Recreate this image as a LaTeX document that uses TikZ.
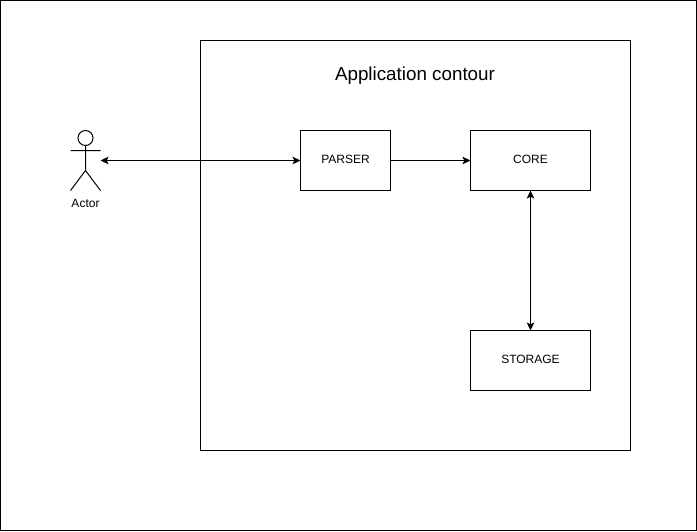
\documentclass[tikz,border=0pt]{standalone}
\usepackage{fontspec}
\setmainfont{Liberation Sans}
\usetikzlibrary{arrows.meta}
\tikzset{
  plainbox/.style={draw=black,line width=1pt,fill=none,inner sep=0pt,outer sep=0pt,align=center,font=\fontsize{12}{14}\selectfont,text height=9pt,text depth=4pt},
  link/.style={draw=black,line width=1pt,{Stealth[length=8pt,width=7.5pt,inset=1.8pt]}-{Stealth[length=8pt,width=7.5pt,inset=1.8pt]}},
  onelink/.style={draw=black,line width=1pt,-{Stealth[length=8pt,width=7.5pt,inset=1.8pt]}},
  figure/.style={draw=black,line width=1pt},
  caption/.style={inner sep=0pt,outer sep=0pt,font=\fontsize{12}{14}\selectfont}
}
\begin{document}
\begin{tikzpicture}[x=1pt,y=-1pt]
\useasboundingbox (0,0) rectangle (697,531);
\node[plainbox,minimum width=696pt,minimum height=530pt] (page) at (348.5,265.5) {};
\node[plainbox,minimum width=430pt,minimum height=410pt] (contour) at (415.5,245.5) {};
\node[inner sep=0pt,font=\fontsize{18.8}{22}\selectfont] (title) at (415,75.2) {Application contour};
\node[plainbox,minimum width=90pt,minimum height=60pt] (parser) at (345.5,160.5) {PARSER};
\node[plainbox,minimum width=120pt,minimum height=60pt] (core) at (530.5,160.5) {CORE};
\node[plainbox,minimum width=120pt,minimum height=60pt] (storage) at (530.5,360.5) {STORAGE};
\node[inner sep=0pt,outer sep=0pt,minimum width=30pt,minimum height=60pt] (actor) at (85.5,160.5) {};
\node[caption] (actorlabel) at (85.5,203.3) {Actor};
\draw[figure] (85.5,138) circle (7.5pt);
\draw[figure] (85.5,145.5) -- (85.5,170.5) (70.5,150.5) -- (100.5,150.5)
  (70.5,190.5) -- (85.5,170.5) -- (100.5,190.5);
\draw[link] (actor.east) -- (parser.west);
\draw[onelink] (parser.east) -- (core.west);
\draw[link] (core.south) -- (storage.north);
\end{tikzpicture}
\end{document}
